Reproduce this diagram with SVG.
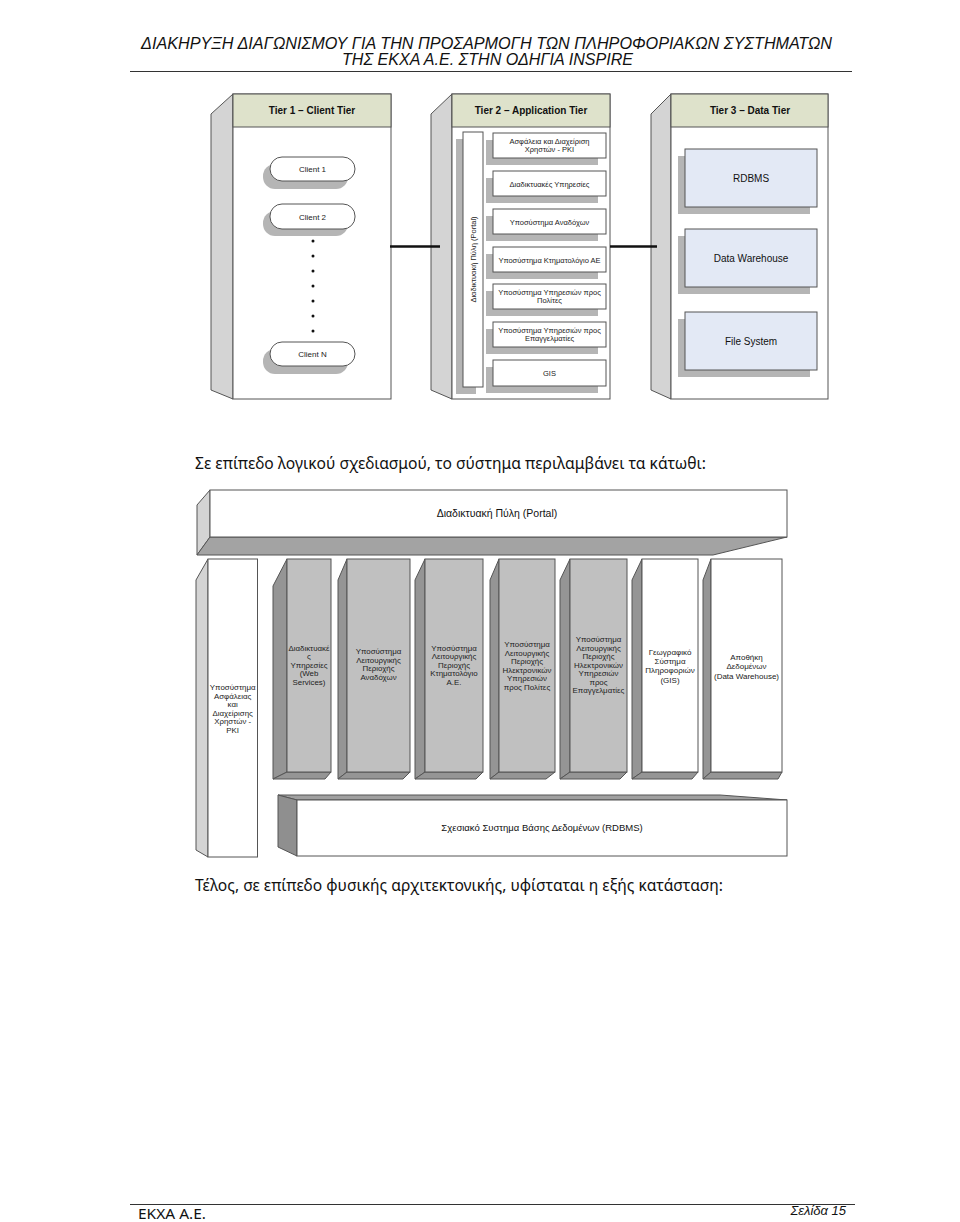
<svg xmlns="http://www.w3.org/2000/svg" width="960" height="1222" viewBox="0 0 960 1222">
<style>
.hdr{font-family:"Liberation Sans",Arial,sans-serif;font-style:italic;font-size:16px;fill:#111}
.body{font-family:"Noto Sans","Liberation Sans",sans-serif;font-size:15.5px;fill:#111}
.tierh{font-family:"Liberation Sans",Arial,sans-serif;font-weight:bold;font-size:10px;fill:#111;text-anchor:middle}
.t75{font-family:"Liberation Sans",Arial,sans-serif;font-size:7.5px;fill:#222;text-anchor:middle}
.c8{font-family:"Liberation Sans",Arial,sans-serif;font-size:7.9px;fill:#222;text-anchor:middle}
.t8{font-family:"Liberation Sans",Arial,sans-serif;font-size:8px;fill:#222;text-anchor:middle}
.t85{font-family:"Liberation Sans",Arial,sans-serif;font-size:8px;fill:#222;text-anchor:middle}
.t10{font-family:"Liberation Sans",Arial,sans-serif;font-size:10px;fill:#111;text-anchor:middle}
.frame{fill:#fff;stroke:#555;stroke-width:1}
.side{fill:#d4d4d4;stroke:#555;stroke-width:1}
.hband{fill:#dee2cb;stroke:#555;stroke-width:1}
.shadow{fill:#b5b5b5}
.box{fill:#fff;stroke:#555;stroke-width:1}
.dbox{fill:#e3e9f5;stroke:#555;stroke-width:1}
.conn{stroke:#111;stroke-width:2.5}
.cgray{fill:#c0c0c0;stroke:#555;stroke-width:1}
.cdark{fill:#959595;stroke:#555;stroke-width:1}
.rule{stroke:#333;stroke-width:1.2}
</style>

<g id="header">
<text class="hdr" x="141" y="49" textLength="691" lengthAdjust="spacingAndGlyphs">ΔΙΑΚΗΡΥΞΗ ΔΙΑΓΩΝΙΣΜΟΥ ΓΙΑ ΤΗΝ ΠΡΟΣΑΡΜΟΓΗ ΤΩΝ ΠΛΗΡΟΦΟΡΙΑΚΩΝ ΣΥΣΤΗΜΑΤΩΝ</text>
<text class="hdr" x="342" y="65" textLength="291" lengthAdjust="spacingAndGlyphs">ΤΗΣ ΕΚΧΑ Α.Ε. ΣΤΗΝ ΟΔΗΓΙΑ INSPIRE</text>
<line class="rule" x1="130" y1="71.5" x2="852" y2="71.5"/>
</g>

<!-- Top diagram -->
<g id="tier1">
<polygon class="side" points="211,114 233,94 233,399 211,390"/>
<rect class="frame" x="233" y="94" width="158" height="305"/>
<rect class="hband" x="233" y="94" width="158" height="33"/>
<text class="tierh" x="312" y="114">Tier 1 – Client Tier</text>
</g>
<g id="client1">
<rect class="shadow" x="263" y="164" width="85" height="25" rx="12"/>
<rect class="box" x="270" y="157" width="85" height="24" rx="12"/>
<text class="t8" x="312.5" y="172">Client 1</text>
</g>
<g id="client2">
<rect class="shadow" x="263" y="211" width="85" height="25" rx="12"/>
<rect class="box" x="270" y="204" width="85" height="25" rx="12"/>
<text class="t8" x="312.5" y="219.5">Client 2</text>
</g>
<g id="dots" fill="#111">
<circle cx="313" cy="241" r="1.5"/><circle cx="313" cy="256" r="1.5"/><circle cx="313" cy="271" r="1.5"/><circle cx="313" cy="286" r="1.5"/><circle cx="313" cy="301" r="1.5"/><circle cx="313" cy="316" r="1.5"/><circle cx="313" cy="331" r="1.5"/>
</g>
<g id="clientN">
<rect class="shadow" x="263" y="349" width="85" height="25" rx="12"/>
<rect class="box" x="270" y="342" width="85" height="24" rx="12"/>
<text class="t8" x="312.5" y="357">Client N</text>
</g>

<g id="tier2">
<polygon class="side" points="431,114 452,94 452,399 431,390"/>
<rect class="frame" x="452" y="94" width="158" height="305"/>
<rect class="hband" x="452" y="94" width="158" height="33"/>
<text class="tierh" x="531" y="114">Tier 2 – Application Tier</text>
</g>
<g id="portal-bar">
<rect class="shadow" x="456" y="139" width="20" height="255"/>
<rect class="box" x="463" y="132" width="20" height="255"/>
<text class="t75" transform="translate(475.5,259.5) rotate(-90)" x="0" y="0">Διαδικτυακή Πύλη (Portal)</text>
</g>
<g id="app1">
<rect class="shadow" x="486" y="140" width="112" height="25"/>
<rect class="box" x="493" y="133" width="113" height="25"/>
<text class="t75" x="549.5" y="144">Ασφάλεια και Διαχείριση</text>
<text class="t75" x="549.5" y="152">Χρηστών - PKI</text>
</g>
<g id="app2">
<rect class="shadow" x="486" y="178" width="112" height="25"/>
<rect class="box" x="493" y="171" width="113" height="25"/>
<text class="t75" x="549.5" y="186.5">Διαδικτυακές Υπηρεσίες</text>
</g>
<g id="app3">
<rect class="shadow" x="486" y="216" width="112" height="25"/>
<rect class="box" x="493" y="209" width="113" height="25"/>
<text class="t75" x="549.5" y="224.5">Υποσύστημα Αναδόχων</text>
</g>
<g id="app4">
<rect class="shadow" x="486" y="254" width="112" height="25"/>
<rect class="box" x="493" y="247" width="113" height="25"/>
<text class="t75" x="549.5" y="262.5">Υποσύστημα Κτηματολόγιο ΑΕ</text>
</g>
<g id="app5">
<rect class="shadow" x="486" y="291" width="112" height="25"/>
<rect class="box" x="493" y="284" width="113" height="25"/>
<text class="t75" x="549.5" y="295">Υποσύστημα Υπηρεσιών προς</text>
<text class="t75" x="549.5" y="303">Πολίτες</text>
</g>
<g id="app6">
<rect class="shadow" x="486" y="329" width="112" height="25"/>
<rect class="box" x="493" y="322" width="113" height="25"/>
<text class="t75" x="549.5" y="333">Υποσύστημα Υπηρεσιών προς</text>
<text class="t75" x="549.5" y="341">Επαγγελματίες</text>
</g>
<g id="app7">
<rect class="shadow" x="486" y="367" width="112" height="26"/>
<rect class="box" x="493" y="360" width="113" height="26"/>
<text class="t75" x="549.5" y="376">GIS</text>
</g>

<g id="tier3">
<polygon class="side" points="651,114 671,94 671,399 651,390"/>
<rect class="frame" x="671" y="94" width="157" height="305"/>
<rect class="hband" x="671" y="94" width="157" height="33"/>
<text class="tierh" x="750" y="114">Tier 3 – Data Tier</text>
</g>
<g id="rdbms">
<rect class="shadow" x="678" y="156" width="132" height="58"/>
<rect class="dbox" x="685" y="149" width="132" height="58"/>
<text class="t10" x="751" y="182">RDBMS</text>
</g>
<g id="dwh">
<rect class="shadow" x="678" y="236" width="132" height="58"/>
<rect class="dbox" x="685" y="229" width="132" height="58"/>
<text class="t10" x="751" y="262">Data Warehouse</text>
</g>
<g id="fs">
<rect class="shadow" x="678" y="319" width="132" height="58"/>
<rect class="dbox" x="685" y="312" width="132" height="58"/>
<text class="t10" x="751" y="345">File System</text>
</g>

<g id="connectors">
<line class="conn" x1="390" y1="246.5" x2="440" y2="246.5"/>
<line class="conn" x1="610" y1="246.5" x2="657" y2="246.5"/>
</g>

<text id="sentence1" class="body" x="195" y="469" textLength="511" lengthAdjust="spacingAndGlyphs">Σε επίπεδο λογικού σχεδιασμού, το σύστημα περιλαμβάνει τα κάτωθι:</text>

<!-- Bottom diagram -->
<g id="portal">
<polygon class="side" points="197,505 210,490 210,537 197,555"/>
<polygon fill="#a3a3a3" stroke="#555" points="197,555 210,537 787,537 713,555"/>
<rect class="box" x="210" y="490" width="577" height="47"/>
<text class="t10" x="497" y="517" style="font-size:10.5px">Διαδικτυακή Πύλη (Portal)</text>
</g>

<g id="col-pki">
<polygon class="side" points="196,580 208,559 208,857 196,850"/>
<rect class="box" x="208" y="559" width="49.5" height="298"/>
<text class="c8"><tspan x="232.7" y="690">Υποσύστημα</tspan><tspan x="232.7" dy="8.6">Ασφάλειας</tspan><tspan x="232.7" dy="8.6">και</tspan><tspan x="232.7" dy="8.6">Διαχείρισης</tspan><tspan x="232.7" dy="8.6">Χρηστών -</tspan><tspan x="232.7" dy="8.6">PKI</tspan></text>
</g>

<g id="col-web">
<polygon class="cdark" points="273,586 287,559 287,772 273,779"/>
<polygon class="cdark" points="273,779 287,772 331,772 325,779"/>
<rect class="cgray" x="287" y="559" width="44" height="213"/>
<text class="c8"><tspan x="309" y="650.5">Διαδικτυακέ</tspan><tspan x="309" dy="8.5">ς</tspan><tspan x="309" dy="8.5">Υπηρεσίες</tspan><tspan x="309" dy="8.5">(Web</tspan><tspan x="309" dy="8.5">Services)</tspan></text>
</g>

<g id="col-anadoxoi">
<polygon class="cdark" points="338,580 347,559 347,772 338,779"/>
<polygon class="cdark" points="338,779 347,772 410,772 403,779"/>
<rect class="cgray" x="347" y="559" width="63" height="213"/>
<text class="c8"><tspan x="378.5" y="654">Υποσύστημα</tspan><tspan x="378.5" dy="8.5">Λειτουργικής</tspan><tspan x="378.5" dy="8.5">Περιοχής</tspan><tspan x="378.5" dy="8.5">Αναδόχων</tspan></text>
</g>

<g id="col-ktima">
<polygon class="cdark" points="415,580 425,559 425,772 415,779"/>
<polygon class="cdark" points="415,779 425,772 483,772 476,779"/>
<rect class="cgray" x="425" y="559" width="58" height="213"/>
<text class="c8"><tspan x="454" y="650.5">Υποσύστημα</tspan><tspan x="454" dy="8.5">Λειτουργικής</tspan><tspan x="454" dy="8.5">Περιοχής</tspan><tspan x="454" dy="8.5">Κτηματολόγιο</tspan><tspan x="454" dy="8.5">Α.Ε.</tspan></text>
</g>

<g id="col-polites">
<polygon class="cdark" points="490,580 499,559 499,772 490,779"/>
<polygon class="cdark" points="490,779 499,772 555,772 546,779"/>
<rect class="cgray" x="499" y="559" width="56" height="213"/>
<text class="c8"><tspan x="527" y="647">Υποσύστημα</tspan><tspan x="527" dy="8.5">Λειτουργικής</tspan><tspan x="527" dy="8.5">Περιοχής</tspan><tspan x="527" dy="8.5">Ηλεκτρονικών</tspan><tspan x="527" dy="8.5">Υπηρεσιών</tspan><tspan x="527" dy="8.5">προς Πολίτες</tspan></text>
</g>

<g id="col-epaggelmaties">
<polygon class="cdark" points="560,580 570,559 570,772 560,779"/>
<polygon class="cdark" points="560,779 570,772 627,772 620,779"/>
<rect class="cgray" x="570" y="559" width="57" height="213"/>
<text class="c8"><tspan x="598.5" y="642">Υποσύστημα</tspan><tspan x="598.5" dy="8.5">Λειτουργικής</tspan><tspan x="598.5" dy="8.5">Περιοχής</tspan><tspan x="598.5" dy="8.5">Ηλεκτρονικών</tspan><tspan x="598.5" dy="8.5">Υπηρεσιών</tspan><tspan x="598.5" dy="8.5">προς</tspan><tspan x="598.5" dy="8.5">Επαγγελματίες</tspan></text>
</g>

<g id="col-gis">
<polygon class="cdark" points="632,580 642,559 642,772 632,779"/>
<polygon class="cdark" points="632,779 642,772 698,772 692,779"/>
<rect class="box" x="642" y="559" width="56" height="213"/>
<text class="t85"><tspan x="670" y="654.5">Γεωγραφικό</tspan><tspan x="670" dy="9.2">Σύστημα</tspan><tspan x="670" dy="9.2">Πληροφοριών</tspan><tspan x="670" dy="9.6">(GIS)</tspan></text>
</g>

<g id="col-dwh">
<polygon class="cdark" points="703,580 711,559 711,772 703,779"/>
<polygon class="cdark" points="703,779 711,772 782,772 778,779"/>
<rect class="box" x="711" y="559" width="71" height="213"/>
<text class="t85"><tspan x="746.5" y="659.5">Αποθήκη</tspan><tspan x="746.5" dy="9.5">Δεδομένων</tspan><tspan x="746.5" dy="9.5">(Data Warehouse)</tspan></text>
</g>

<g id="rdbms-base">
<polygon fill="#a0a0a0" stroke="#555" points="278,795 720,795 787,800 297,800"/>
<polygon fill="#8f8f8f" stroke="#555" points="278,795 297,800 297,856 278,847"/>
<rect class="box" x="297" y="800" width="490" height="56"/>
<text class="t10" x="542" y="831" style="font-size:9.5px">Σχεσιακό Συστημα Βάσης Δεδομένων (RDBMS)</text>
</g>

<text id="sentence2" class="body" x="195" y="891" textLength="528" lengthAdjust="spacingAndGlyphs">Τέλος, σε επίπεδο φυσικής αρχιτεκτονικής, υφίσταται η εξής κατάσταση:</text>

<g id="footer">
<line class="rule" x1="130" y1="1204.5" x2="855" y2="1204.5"/>
<text x="138" y="1218.5" textLength="68" lengthAdjust="spacingAndGlyphs" style="font-family:'Noto Sans','Liberation Sans',sans-serif;font-size:15px;fill:#111">ΕΚΧΑ Α.Ε.</text>
<text x="846" y="1215" text-anchor="end" style="font-family:'Liberation Sans',Arial,sans-serif;font-style:italic;font-size:13px;fill:#111">Σελίδα 15</text>
</g>
</svg>
